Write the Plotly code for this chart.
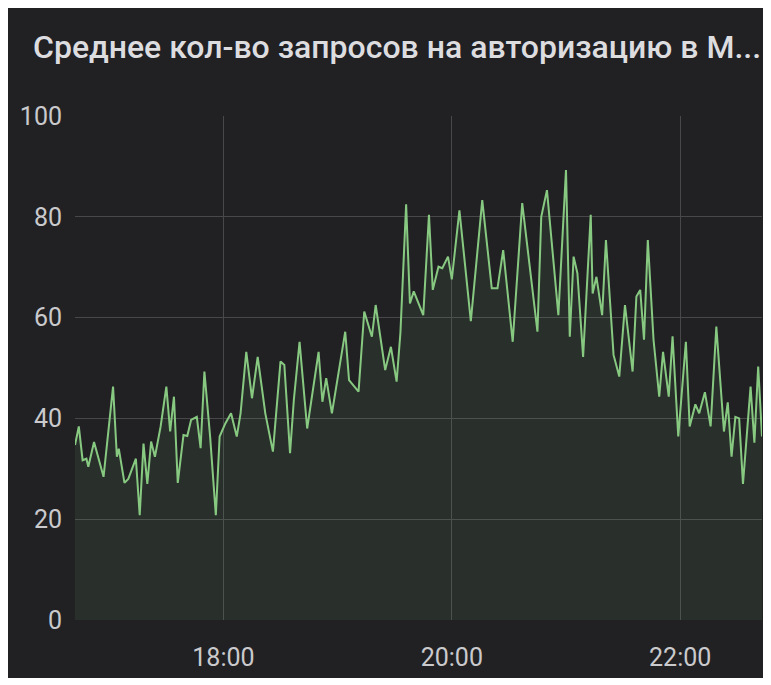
import plotly.graph_objects as go
import pandas as pd

title_text = "Среднее кол-во запросов на авторизацию в М..."

times = [
    "16:42", "16:44", "16:46", "16:48", "16:49", "16:52", "16:57", "17:02", "17:04", "17:05",
    "17:08", "17:10", "17:14", "17:16", "17:18", "17:20", "17:22", "17:24", "17:27", "17:30",
    "17:32", "17:34", "17:36", "17:39", "17:41", "17:43", "17:46", "17:48", "17:50", "17:53",
    "17:56", "17:58", "18:01", "18:04", "18:07", "18:09", "18:12", "18:15", "18:18", "18:22",
    "18:26", "18:30", "18:32", "18:35", "18:37", "18:40", "18:44", "18:50", "18:52", "18:54",
    "18:57", "19:04", "19:06", "19:11", "19:14", "19:18", "19:20", "19:25", "19:28", "19:31",
    "19:33", "19:36", "19:38", "19:40", "19:45", "19:48", "19:50", "19:53", "19:55", "19:58",
    "20:00", "20:04", "20:10", "20:16", "20:21", "20:24", "20:27", "20:32", "20:37", "20:45",
    "20:47", "20:50", "20:56", "21:00", "21:02", "21:04", "21:06", "21:09", "21:13", "21:14",
    "21:16", "21:19", "21:21", "21:25", "21:28", "21:31", "21:35", "21:37", "21:39", "21:41",
    "21:43", "21:46", "21:49", "21:51", "21:54", "21:56", "21:59", "22:03", "22:05", "22:08",
    "22:10", "22:13", "22:16", "22:19", "22:23", "22:25", "22:27", "22:29", "22:31", "22:33",
    "22:37", "22:39", "22:41", "22:43",
]

values = [
    34.7, 38.4, 31.7, 32.0, 30.4, 35.3, 28.4, 46.3, 32.4, 34.0,
    27.2, 28.0, 32.0, 20.8, 35.0, 27.0, 35.4, 32.4, 38.4, 46.3,
    37.4, 44.3, 27.2, 36.7, 36.5, 39.7, 40.3, 34.1, 49.3, 36.4,
    20.8, 36.4, 39.0, 41.0, 36.4, 41.0, 53.2, 44.0, 52.2, 41.0,
    33.4, 51.3, 50.6, 33.1, 43.7, 55.2, 38.0, 53.2, 43.3, 48.0,
    41.0, 57.2, 47.6, 45.3, 61.2, 56.2, 62.5, 49.6, 54.2, 47.3,
    57.0, 82.5, 62.8, 65.2, 60.5, 80.4, 65.5, 70.1, 69.8, 72.1,
    67.6, 81.3, 59.3, 83.3, 65.8, 65.8, 73.4, 55.2, 82.7, 57.2,
    80.0, 85.3, 60.5, 89.3, 56.2, 72.1, 68.8, 52.2, 80.4, 64.8,
    68.1, 60.5, 75.4, 52.6, 48.3, 62.5, 49.3, 64.2, 65.5, 55.6,
    75.4, 55.6, 44.3, 53.2, 44.3, 56.3, 36.4, 55.2, 38.4, 42.8,
    41.0, 45.2, 38.4, 58.2, 37.4, 43.2, 32.4, 40.3, 40.0, 27.0,
    46.3, 35.2, 50.3, 36.4,
]

x_start = "16:42"
x_end = "22:43"
y_ticks = [0, 20, 40, 60, 80, 100]
x_ticks = ["18:00", "20:00", "22:00"]

day = "2024-01-01 "
xs = pd.to_datetime([day + t for t in times])

panel_bg = "#212124"
grid_col = "#48484b"
text_col = "#cacacd"
line_col = "#88c982"

fig = go.Figure()
fig.add_trace(go.Scatter(
    x=xs, y=values, mode="lines",
    line=dict(color=line_col, width=2),
    fill="tozeroy", fillcolor="rgba(120,190,110,0.10)",
    hoverinfo="skip", showlegend=False,
))

fig.update_layout(
    width=760, height=670,
    margin=dict(l=67, r=6, t=108, b=58),
    paper_bgcolor=panel_bg,
    plot_bgcolor="rgba(0,0,0,0)",
    font=dict(family="Roboto, Arial, sans-serif", color=text_col),
    title=dict(
        text=title_text, x=25 / 760, xanchor="left", xref="container",
        y=1 - 39 / 670, yanchor="middle", yref="container",
        font=dict(size=32, color="#dddde0", family="Roboto, Arial, sans-serif", weight=500),
    ),
    showlegend=False,
)

fig.update_xaxes(
    range=[pd.Timestamp(day + x_start), pd.Timestamp(day + x_end)],
    tickvals=pd.to_datetime([day + t for t in x_ticks]),
    ticktext=x_ticks,
    showgrid=True, gridcolor=grid_col, gridwidth=1,
    zeroline=False, showline=False, ticks="",
    tickfont=dict(size=25, color=text_col),
    ticklabelstandoff=20,
)
fig.update_yaxes(
    range=[0, 100],
    tickvals=y_ticks,
    showgrid=True, gridcolor=grid_col, gridwidth=1,
    zeroline=False, showline=False, ticks="",
    tickfont=dict(size=25, color=text_col),
    ticklabelstandoff=12,
)

fig.write_html("out.html")
